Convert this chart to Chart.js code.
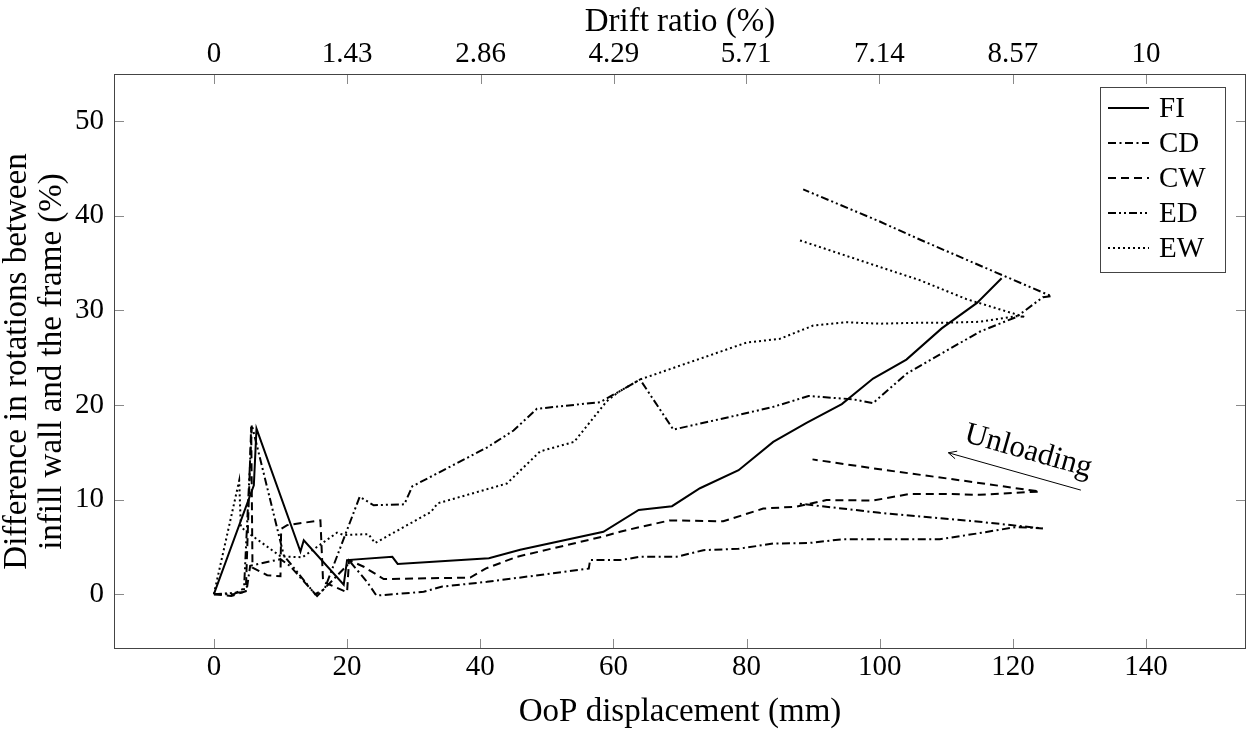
<!DOCTYPE html>
<html>
<head>
<meta charset="utf-8">
<script src="https://cdn.jsdelivr.net/npm/chart.js@4.4.1/dist/chart.umd.min.js"></script>
<style>
  html, body { margin: 0; padding: 0; background: #fff; }
</style>
</head>
<body>
<canvas id="chart" width="1248" height="732"></canvas>
<script>
const FONT = '"Liberation Serif", "Times New Roman", serif';

// tick values / labels
const dispTicks = [0, 20, 40, 60, 80, 100, 120, 140];
const diffTicks = [0, 10, 20, 30, 40, 50];
const driftTicks = [0, 1.43, 2.86, 4.29, 5.71, 7.14, 8.57, 10];
const driftLabels = ['0', '1.43', '2.86', '4.29', '5.71', '7.14', '8.57', '10'];

// series (OoP displacement in mm, rotation difference in %)
const fiDisp = [0, 6.0, 6.4, 13.0, 13.5, 19.5, 20.0, 26.8, 27.6, 41.3, 46.0, 58.5, 63.8, 68.8, 73.0, 78.8, 84.0, 89.0, 94.3, 99.0, 104.0, 109.3, 114.6, 118.3];
const fiDiff = [0, 11.5, 17.5, 4.5, 5.7, 1.0, 3.6, 3.95, 3.2, 3.8, 4.7, 6.6, 8.9, 9.3, 11.2, 13.1, 16.1, 18.1, 20.1, 22.8, 24.8, 28.1, 30.8, 33.4];

const cdDisp = [0, 3.0, 5.0, 5.45, 10.0, 11.4, 15.5, 20.5, 23.0, 24.4, 31.5, 34.3, 41.0, 56.3, 56.5, 61.0, 64.0, 69.5, 73.5, 78.8, 84.0, 89.3, 94.3, 99.5, 109.0, 114.5, 120.5, 124.5, 115.0, 100.0, 87.5];
const cdDiff = [0, 0.0, 0.8, 3.0, 3.7, 3.0, -0.2, 3.4, 1.3, -0.15, 0.25, 0.8, 1.3, 2.7, 3.6, 3.6, 3.95, 3.95, 4.65, 4.8, 5.35, 5.4, 5.8, 5.8, 5.8, 6.4, 7.1, 6.95, 7.65, 8.6, 9.6];

const cwDisp = [0, 2.6, 4.8, 5.6, 5.8, 8.0, 10.0, 10.1, 11.0, 16.0, 16.4, 20.0, 20.3, 22.5, 25.5, 38.5, 40.8, 45.5, 58.5, 61.0, 64.0, 68.5, 76.5, 82.5, 87.5, 92.0, 99.0, 104.5, 110.0, 115.0, 124.0, 112.0, 100.0, 89.9];
const cwDiff = [0, -0.2, 0.3, 17.7, 2.8, 2.0, 1.9, 6.9, 7.3, 7.8, 1.3, 0.2, 3.6, 2.9, 1.6, 1.75, 2.7, 3.95, 6.1, 6.6, 7.1, 7.8, 7.7, 9.05, 9.25, 9.95, 9.9, 10.6, 10.6, 10.5, 10.85, 12.05, 13.2, 14.25];

const edDisp = [0, 4.5, 5.7, 10.5, 15.2, 16.6, 21.9, 24.0, 28.6, 29.8, 41.0, 45.0, 48.5, 58.0, 60.8, 64.0, 69.0, 78.5, 84.0, 89.3, 96.0, 99.0, 104.0, 115.0, 120.5, 124.5, 125.8, 117.5, 106.0, 100.0, 88.5];
const edDiff = [0, 0.2, 17.9, 4.1, 0.0, 0.5, 10.3, 9.4, 9.5, 11.4, 15.5, 17.3, 19.6, 20.3, 21.4, 22.7, 17.4, 18.9, 19.8, 20.95, 20.6, 20.2, 23.3, 27.75, 29.3, 31.4, 31.5, 34.0, 37.5, 39.4, 42.8];

const ewDisp = [0, 3.8, 4.05, 5.5, 10.0, 13.3, 18.5, 19.5, 23.2, 24.2, 32.6, 33.6, 44.0, 49.0, 54.1, 59.0, 60.8, 64.0, 80.0, 85.0, 90.0, 95.0, 100.0, 106.0, 110.0, 115.0, 120.5, 121.8, 113.0, 106.0, 100.0, 87.6];
const ewDiff = [0, 12.0, 7.1, 6.3, 4.0, 3.9, 6.5, 6.25, 6.35, 5.4, 8.7, 9.6, 11.7, 15.1, 16.1, 20.4, 21.4, 22.7, 26.6, 27.0, 28.4, 28.75, 28.6, 28.7, 28.7, 28.8, 29.4, 29.3, 31.2, 33.2, 34.6, 37.5];

// "Unloading" arrow, in data units
const arrowFrom = [130.2, 11.0];
const arrowTo = [110.3, 14.95];
const arrowLabelAt = [122.3, 15.1];

const toPoints = (xs, ys) => xs.map((x, i) => ({ x: x, y: ys[i] }));

const series = [
    { label: 'FI', xs: fiDisp, ys: fiDiff, dash: [] },
    { label: 'CD', xs: cdDisp, ys: cdDiff, dash: [8, 3.5, 2, 3.5] },
    { label: 'CW', xs: cwDisp, ys: cwDiff, dash: [8, 5] },
    { label: 'ED', xs: edDisp, ys: edDiff, dash: [8, 3, 2, 3, 2, 3] },
    { label: 'EW', xs: ewDisp, ys: ewDiff, dash: [2, 3] }
];

const datasets = series.map(s => ({
    label: s.label,
    data: toPoints(s.xs, s.ys),
    borderColor: '#000',
    borderWidth: 2,
    borderDash: s.dash,
    pointRadius: 0,
    fill: false,
    tension: 0
}));

const TICK_SIZE = 29;
const TITLE_SIZE = 33;
const font = size => ({ family: FONT, size: size });

// frame, inward ticks, legend box and the unloading note
const extras = {
    id: 'extras',
    afterDatasetsDraw(chart) {
        const { ctx, chartArea: a, scales } = chart;
        ctx.save();
        ctx.setLineDash([]);

        // tick marks pointing inward
        ctx.strokeStyle = '#8a8a8a';
        ctx.lineWidth = 1;
        const tl = 10;
        ctx.beginPath();
        dispTicks.forEach(v => {
            const px = Math.round(scales.x.getPixelForValue(v)) + 0.5;
            ctx.moveTo(px, a.bottom); ctx.lineTo(px, a.bottom - tl);
        });
        driftTicks.forEach(v => {
            const px = Math.round(scales.x2.getPixelForValue(v)) + 0.5;
            ctx.moveTo(px, a.top); ctx.lineTo(px, a.top + tl);
        });
        diffTicks.forEach(v => {
            const py = Math.round(scales.y.getPixelForValue(v)) + 0.5;
            ctx.moveTo(a.left, py); ctx.lineTo(a.left + tl, py);
            ctx.moveTo(a.right, py); ctx.lineTo(a.right - tl, py);
        });
        ctx.stroke();

        // frame
        ctx.strokeStyle = '#444';
        ctx.strokeRect(a.left + 0.5, a.top + 0.5, a.right - a.left - 1, a.bottom - a.top - 1);

        // legend
        const bx = 1100, by = 87, bw = 125, bh = 185;
        ctx.fillStyle = '#fff';
        ctx.fillRect(bx, by, bw, bh);
        ctx.strokeStyle = '#444';
        ctx.strokeRect(bx + 0.5, by + 0.5, bw, bh);
        ctx.font = TICK_SIZE + 'px ' + FONT;
        ctx.textBaseline = 'middle';
        ctx.textAlign = 'left';
        chart.data.datasets.forEach((ds, i) => {
            const y = by + 21 + i * 35;
            ctx.strokeStyle = '#000';
            ctx.lineWidth = ds.borderWidth;
            ctx.setLineDash(ds.borderDash);
            ctx.beginPath();
            ctx.moveTo(bx + 8, y); ctx.lineTo(bx + 49, y);
            ctx.stroke();
            ctx.setLineDash([]);
            ctx.fillStyle = '#000';
            ctx.fillText(ds.label, bx + 59, y + 1);
        });

        // unloading arrow + label
        const x0 = scales.x.getPixelForValue(arrowFrom[0]), y0 = scales.y.getPixelForValue(arrowFrom[1]);
        const x1 = scales.x.getPixelForValue(arrowTo[0]), y1 = scales.y.getPixelForValue(arrowTo[1]);
        const ang = Math.atan2(y1 - y0, x1 - x0);
        ctx.strokeStyle = '#000';
        ctx.lineWidth = 1;
        ctx.beginPath();
        ctx.moveTo(x0, y0); ctx.lineTo(x1, y1);
        ctx.moveTo(x1 - 9 * Math.cos(ang - 0.45), y1 - 9 * Math.sin(ang - 0.45));
        ctx.lineTo(x1, y1);
        ctx.lineTo(x1 - 9 * Math.cos(ang + 0.45), y1 - 9 * Math.sin(ang + 0.45));
        ctx.stroke();

        const lx = scales.x.getPixelForValue(arrowLabelAt[0]);
        const ly = scales.y.getPixelForValue(arrowLabelAt[1]);
        ctx.translate(lx, ly);
        ctx.rotate(ang + Math.PI);
        ctx.font = '31px ' + FONT;
        ctx.textAlign = 'center';
        ctx.textBaseline = 'middle';
        ctx.fillStyle = '#000';
        ctx.fillText('Unloading', 0, 0);
        ctx.restore();
    }
};

new Chart(document.getElementById('chart'), {
    type: 'line',
    data: { datasets: datasets },
    options: {
        responsive: false,
        animation: false,
        devicePixelRatio: 1,
        layout: { padding: { right: 2 } },
        plugins: {
            legend: { display: false },
            tooltip: { enabled: false }
        },
        scales: {
            x: {
                type: 'linear',
                position: 'bottom',
                min: -15,
                max: 155,
                afterBuildTicks: s => { s.ticks = dispTicks.map(v => ({ value: v })); },
                afterFit: s => { s.height = 83; },
                grid: { display: false, drawTicks: false },
                border: { display: false },
                ticks: { font: font(TICK_SIZE), color: '#000', padding: 1, maxRotation: 0, autoSkip: false },
                title: { display: true, text: 'OoP displacement (mm)', font: font(TITLE_SIZE), color: '#000', padding: { top: 0, bottom: 0 } }
            },
            x2: {
                type: 'linear',
                position: 'top',
                min: -15 / 14,
                max: 155 / 14,
                afterBuildTicks: s => { s.ticks = driftTicks.map(v => ({ value: v })); },
                afterFit: s => { s.height = 74; },
                grid: { display: false, drawTicks: false },
                border: { display: false },
                ticks: {
                    font: font(TICK_SIZE), color: '#000', padding: 2, maxRotation: 0, autoSkip: false,
                    callback: (v, i) => driftLabels[i]
                },
                title: { display: true, text: 'Drift ratio (%)', font: font(TITLE_SIZE), color: '#000', padding: { top: 3, bottom: 0 } }
            },
            y: {
                type: 'linear',
                position: 'left',
                min: -5.8,
                max: 55,
                afterBuildTicks: s => { s.ticks = diffTicks.map(v => ({ value: v })); },
                afterFit: s => { s.width = 114; },
                grid: { display: false, drawTicks: false },
                border: { display: false },
                ticks: { font: font(TICK_SIZE), color: '#000', padding: 10 },
                title: {
                    display: true,
                    text: ['Difference in rotations between', 'infill wall and the frame (%)'],
                    font: { family: FONT, size: TITLE_SIZE, lineHeight: 1.05 },
                    color: '#000',
                    padding: { top: 0, bottom: 0 }
                }
            }
        }
    },
    plugins: [extras]
});
</script>
</body>
</html>
